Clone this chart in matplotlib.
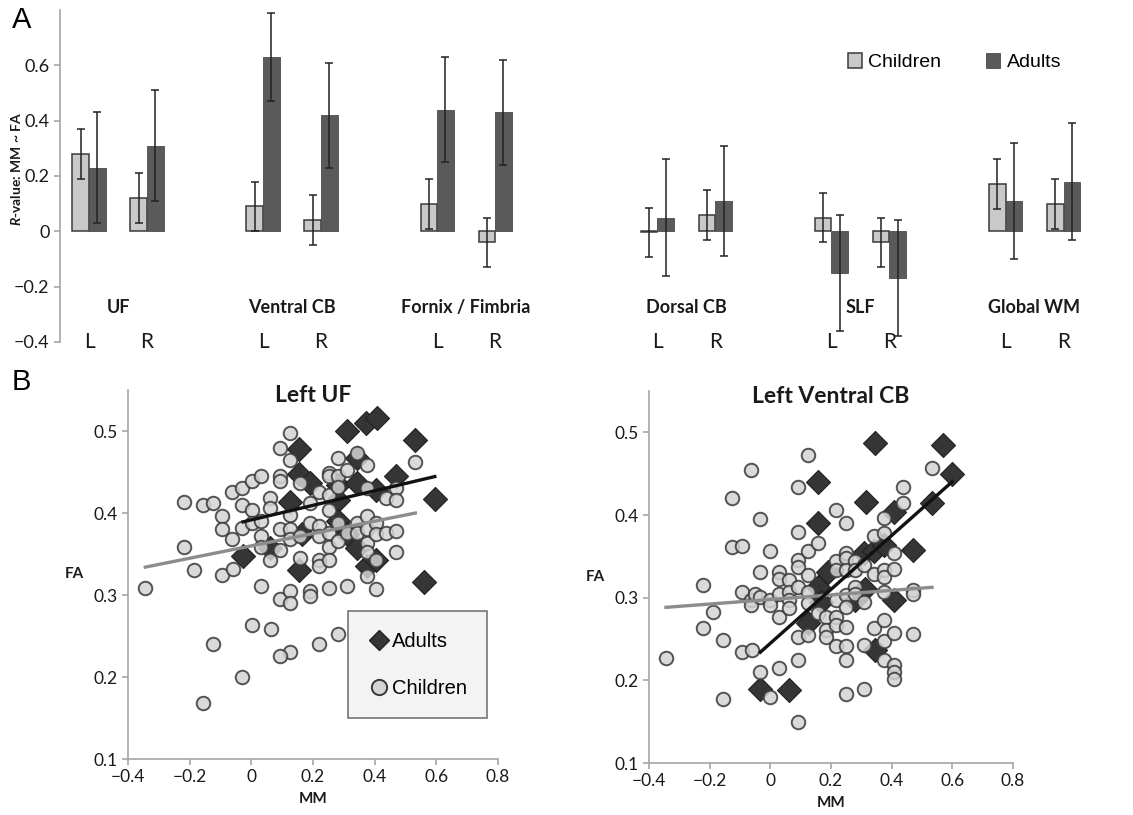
"""Panel A: R-values per tract; panel B: MM vs FA scatter for two tracts."""

import matplotlib

matplotlib.use("Agg")
import matplotlib.pyplot as plt
from matplotlib.lines import Line2D
import numpy as np

plt.rcParams["font.family"] = ["Lato", "DejaVu Sans"]
plt.rcParams["mathtext.fontset"] = "custom"
plt.rcParams["mathtext.it"] = "Lato:italic:bold"
plt.rcParams["mathtext.rm"] = "Lato:bold"

# ---- panel A data ----
tracts = ["UF", "Ventral CB", "Fornix / Fimbria", "Dorsal CB", "SLF", "Global WM"]
sides = ["L", "R"]
children_r = [0.28, 0.12, 0.09, 0.04, 0.10, -0.04, -0.004, 0.06, 0.05, -0.04, 0.17, 0.10]
children_err = [0.09, 0.09, 0.09, 0.09, 0.09, 0.09, 0.09, 0.09, 0.09, 0.09, 0.09, 0.09]
adults_r = [0.23, 0.31, 0.63, 0.42, 0.44, 0.43, 0.05, 0.11, -0.15, -0.17, 0.11, 0.18]
adults_err = [0.20, 0.20, 0.16, 0.19, 0.19, 0.19, 0.21, 0.20, 0.21, 0.21, 0.21, 0.21]

# ---- panel B data: Left UF ----
uf_children_mm = [-0.344, -0.219, -0.219, -0.187, -0.158, -0.125, -0.095, -0.095, -0.095, -0.063,
                  -0.063, -0.060, -0.030, -0.030, -0.030, 0.002, 0.002, 0.002, 0.032, 0.032,
                  0.032, 0.032, 0.032, 0.062, 0.062, 0.062, 0.094, 0.094, 0.094, 0.094,
                  0.094, 0.094, 0.126, 0.126, 0.126, 0.126, 0.126, 0.126, 0.126, 0.159,
                  0.159, 0.159, 0.189, 0.189, 0.189, 0.189, 0.218, 0.218, 0.218, 0.218,
                  0.218, 0.251, 0.251, 0.251, 0.251, 0.251, 0.251, 0.251, 0.251, 0.280,
                  0.280, 0.280, 0.280, 0.280, 0.310, 0.310, 0.310, 0.343, 0.343, 0.343,
                  0.375, 0.375, 0.375, 0.375, 0.375, 0.375, 0.375, 0.405, 0.405, 0.405,
                  0.405, 0.437, 0.437, 0.470, 0.470, 0.470, 0.470, 0.532, 0.002, 0.064,
                  -0.124, 0.280, 0.218, 0.126, 0.094, -0.030, -0.158]
uf_children_fa = [0.309, 0.413, 0.359, 0.331, 0.410, 0.412, 0.396, 0.380, 0.325, 0.426,
                  0.368, 0.332, 0.430, 0.410, 0.382, 0.439, 0.404, 0.388, 0.445, 0.390,
                  0.372, 0.359, 0.311, 0.418, 0.406, 0.343, 0.479, 0.445, 0.439, 0.380,
                  0.355, 0.295, 0.497, 0.465, 0.398, 0.380, 0.368, 0.305, 0.290, 0.436,
                  0.345, 0.372, 0.412, 0.388, 0.305, 0.299, 0.426, 0.384, 0.372, 0.343,
                  0.335, 0.449, 0.445, 0.422, 0.404, 0.376, 0.359, 0.343, 0.309, 0.467,
                  0.445, 0.432, 0.388, 0.366, 0.453, 0.376, 0.311, 0.473, 0.388, 0.376,
                  0.459, 0.430, 0.396, 0.380, 0.364, 0.353, 0.323, 0.388, 0.374, 0.343,
                  0.307, 0.418, 0.376, 0.430, 0.416, 0.378, 0.352, 0.462, 0.263, 0.259,
                  0.240, 0.253, 0.240, 0.230, 0.226, 0.200, 0.168]
uf_adults_mm = [-0.027, 0.062, 0.126, 0.156, 0.156, 0.156, 0.164, 0.189, 0.280, 0.280,
                0.280, 0.310, 0.310, 0.343, 0.343, 0.343, 0.372, 0.375, 0.405, 0.405,
                0.408, 0.470, 0.530, 0.559, 0.595]
uf_adults_fa = [0.348, 0.357, 0.414, 0.478, 0.447, 0.331, 0.374, 0.437, 0.434, 0.416,
                0.390, 0.500, 0.374, 0.467, 0.437, 0.357, 0.510, 0.335, 0.428, 0.343,
                0.516, 0.445, 0.489, 0.316, 0.417]

# ---- panel B data: Left Ventral CB ----
vcb_children_mm = [-0.344, -0.221, -0.221, -0.188, -0.157, -0.157, -0.126, -0.126, -0.093, -0.093,
                   -0.093, -0.064, -0.064, -0.064, -0.060, -0.050, -0.033, -0.033, -0.033, -0.033,
                   0.000, 0.000, 0.000, 0.000, 0.030, 0.030, 0.030, 0.030, 0.030, 0.063,
                   0.063, 0.063, 0.063, 0.092, 0.092, 0.092, 0.092, 0.092, 0.092, 0.092,
                   0.092, 0.123, 0.123, 0.123, 0.123, 0.123, 0.123, 0.156, 0.156, 0.184,
                   0.184, 0.184, 0.216, 0.216, 0.216, 0.216, 0.216, 0.216, 0.216, 0.249,
                   0.249, 0.249, 0.249, 0.249, 0.249, 0.249, 0.249, 0.249, 0.249, 0.280,
                   0.280, 0.280, 0.280, 0.310, 0.310, 0.310, 0.310, 0.341, 0.341, 0.341,
                   0.374, 0.374, 0.374, 0.374, 0.374, 0.374, 0.374, 0.374, 0.407, 0.407,
                   0.407, 0.407, 0.407, 0.407, 0.436, 0.436, 0.469, 0.469, 0.469, 0.533]
vcb_children_fa = [0.227, 0.315, 0.263, 0.283, 0.249, 0.178, 0.421, 0.361, 0.363, 0.307,
                   0.234, 0.454, 0.297, 0.291, 0.237, 0.304, 0.395, 0.331, 0.301, 0.210,
                   0.357, 0.297, 0.291, 0.180, 0.331, 0.322, 0.305, 0.277, 0.215, 0.321,
                   0.307, 0.297, 0.288, 0.434, 0.379, 0.346, 0.337, 0.313, 0.253, 0.225,
                   0.150, 0.473, 0.356, 0.327, 0.307, 0.293, 0.255, 0.366, 0.281, 0.277,
                   0.261, 0.253, 0.406, 0.344, 0.333, 0.297, 0.277, 0.267, 0.242, 0.390,
                   0.354, 0.348, 0.333, 0.303, 0.289, 0.265, 0.241, 0.225, 0.183, 0.344,
                   0.333, 0.313, 0.305, 0.340, 0.295, 0.243, 0.189, 0.375, 0.329, 0.263,
                   0.396, 0.378, 0.333, 0.325, 0.307, 0.273, 0.247, 0.225, 0.354, 0.335,
                   0.257, 0.219, 0.210, 0.202, 0.434, 0.414, 0.309, 0.305, 0.256, 0.457]
vcb_adults_mm = [-0.033, 0.063, 0.123, 0.156, 0.156, 0.156, 0.167, 0.189, 0.280, 0.310,
                 0.313, 0.315, 0.343, 0.346, 0.346, 0.376, 0.407, 0.407, 0.469, 0.533,
                 0.568, 0.599]
vcb_adults_fa = [0.190, 0.188, 0.269, 0.440, 0.390, 0.313, 0.295, 0.331, 0.297, 0.354,
                 0.311, 0.416, 0.356, 0.487, 0.237, 0.364, 0.404, 0.297, 0.358, 0.414,
                 0.485, 0.450]

# fitted trend lines: (slope, intercept)
uf_children_fit = (0.0753, 0.3599)
uf_adults_fit = (0.0888, 0.3916)
vcb_children_fit = (0.0276, 0.2978)
vcb_adults_fit = (0.326, 0.2448)

CHILD_BAR = "#c9c9c9"
ADULT_BAR = "#5a5a5a"
CHILD_DOT = "#d4d4d4"
ADULT_DOT = "#353535"
AXIS_GRAY = "#a6a6a6"
TEXT = "#1a1a1a"

# layout of bar groups (in "slot" units, L then R one slot apart)
GROUP_POS = [0.0, 3.0, 6.0, 9.8, 12.8, 15.8]


def style_axis(ax, labelsize=12.5):
    for side in ["top", "right"]:
        ax.spines[side].set_visible(False)
    for side in ["left", "bottom"]:
        ax.spines[side].set_color(AXIS_GRAY)
        ax.spines[side].set_linewidth(1.2)
    ax.tick_params(color=AXIS_GRAY, length=4, width=1.2, labelsize=labelsize, labelcolor=TEXT)


def plot_bars(fig):
    ax = fig.add_axes([60 / 1133, 1 - 342 / 815, 1065 / 1133, 332 / 815])
    width = 0.285
    xs = []
    for g in GROUP_POS:
        xs.extend([g, g + 1])
    xs = np.array(xs)
    b1 = ax.bar(xs - width / 2, children_r, width, color=CHILD_BAR, edgecolor="#3a3a3a",
                linewidth=1.1, label="Children")
    b2 = ax.bar(xs + width / 2, adults_r, width, color=ADULT_BAR, edgecolor="#4a4a4a",
                linewidth=0.6, label="Adults")
    ax.errorbar(xs - width / 2, children_r, yerr=children_err, fmt="none", ecolor="#222222",
                elinewidth=1.1, capsize=3, capthick=1.1)
    ax.errorbar(xs + width / 2, adults_r, yerr=adults_err, fmt="none", ecolor="#222222",
                elinewidth=1.1, capsize=3, capthick=1.1)

    ax.set_xlim(-0.5, 17.86)
    ax.set_ylim(-0.4, 0.8)
    ax.set_yticks([-0.4, -0.2, 0, 0.2, 0.4, 0.6])
    ax.set_yticklabels(["\u22120.4", "\u22120.2", "0", "0.2", "0.4", "0.6"])
    ax.set_xticks([])
    style_axis(ax, labelsize=13)
    ax.spines["bottom"].set_visible(False)

    for g, name in zip(GROUP_POS, tracts):
        ax.text(g + 0.5, -0.275, name, ha="center", va="center", fontsize=13,
                fontweight="bold", color=TEXT)
        for k, s in enumerate(sides):
            ax.text(g + k, -0.4, s, ha="center", va="center", fontsize=15, color=TEXT)

    ax.set_ylabel(r"$\mathit{R}$-value: MM ~ FA", fontsize=10, fontweight="bold", color=TEXT)
    ax.yaxis.set_label_coords(-0.035, 0.52)
    ax.legend(handles=[b1, b2], loc="center", bbox_to_anchor=(0.84, 0.843), ncol=2,
              frameon=False, handlelength=0.7, handleheight=0.85, handletextpad=0.35,
              columnspacing=2.3, prop={"family": "Liberation Sans", "size": 14})


def plot_scatter(ax, title, c_mm, c_fa, a_mm, a_fa, c_fit, a_fit, legend=False):
    ax.scatter(a_mm, a_fa, marker="D", s=150, color=ADULT_DOT, edgecolor="#222222",
               linewidth=0.8, zorder=2, label="Adults")
    ax.scatter(c_mm, c_fa, marker="o", s=95, color=CHILD_DOT, edgecolor="#383838",
               linewidth=1.4, alpha=0.85, zorder=3, label="Children")
    cx = np.array([min(c_mm), max(c_mm)])
    ax.plot(cx, c_fit[0] * cx + c_fit[1], color="#8c8c8c", linewidth=2.4, zorder=4)
    axx = np.array([min(a_mm), max(a_mm)])
    ax.plot(axx, a_fit[0] * axx + a_fit[1], color="#111111", linewidth=2.4, zorder=5)

    ax.set_xlim(-0.4, 0.8)
    ax.set_ylim(0.1, 0.55)
    ax.set_xticks([-0.4, -0.2, 0, 0.2, 0.4, 0.6, 0.8])
    ax.set_xticklabels(["\u22120.4", "\u22120.2", "0", "0.2", "0.4", "0.6", "0.8"])
    ax.set_yticks([0.1, 0.2, 0.3, 0.4, 0.5])
    ax.set_yticklabels(["0.1", "0.2", "0.3", "0.4", "0.5"])
    style_axis(ax)
    ax.text(0.5, 0.985, title, transform=ax.transAxes, ha="center", va="center",
            fontsize=16.5, fontweight="bold", color=TEXT)
    ax.set_xlabel("MM", fontsize=11, fontweight="bold", labelpad=5, color=TEXT)
    ax.set_ylabel("FA", fontsize=11, fontweight="bold", rotation=0, labelpad=14, va="center",
                  color=TEXT)

    if legend:
        handles = [
            Line2D([], [], marker="D", linestyle="none", markersize=10, color=ADULT_DOT,
                   markeredgecolor="#222222"),
            Line2D([], [], marker="o", linestyle="none", markersize=11, color=CHILD_DOT,
                   markeredgecolor="#383838", markeredgewidth=1.4),
        ]
        leg = ax.legend(handles, ["Adults", "Children"], loc="lower right",
                        bbox_to_anchor=(0.997, 0.084), frameon=True, fancybox=False,
                        borderpad=1.0, labelspacing=1.4, handletextpad=0.15,
                        handlelength=1.0, prop={"family": "Liberation Sans", "size": 14.5})
        leg.get_frame().set_facecolor("#f1f1f1")
        leg.get_frame().set_edgecolor("#555555")
        leg.get_frame().set_linewidth(1.2)


def main():
    fig = plt.figure(figsize=(11.33, 8.15), dpi=100)
    plot_bars(fig)

    ax_l = fig.add_axes([128 / 1133, 1 - 759 / 815, 370 / 1133, 369 / 815])
    plot_scatter(ax_l, "Left UF", uf_children_mm, uf_children_fa, uf_adults_mm, uf_adults_fa,
                 uf_children_fit, uf_adults_fit, legend=True)
    ax_r = fig.add_axes([649 / 1133, 1 - 763 / 815, 364 / 1133, 372 / 815])
    plot_scatter(ax_r, "Left Ventral CB", vcb_children_mm, vcb_children_fa, vcb_adults_mm,
                 vcb_adults_fa, vcb_children_fit, vcb_adults_fit)

    fig.text(12 / 1133, 1 - 20 / 815, "A", fontsize=21, family="Liberation Sans", va="center")
    fig.text(12 / 1133, 1 - 382 / 815, "B", fontsize=21, family="Liberation Sans", va="center")

    fig.savefig("out.png", dpi=100)
    plt.close(fig)


if __name__ == "__main__":
    main()
